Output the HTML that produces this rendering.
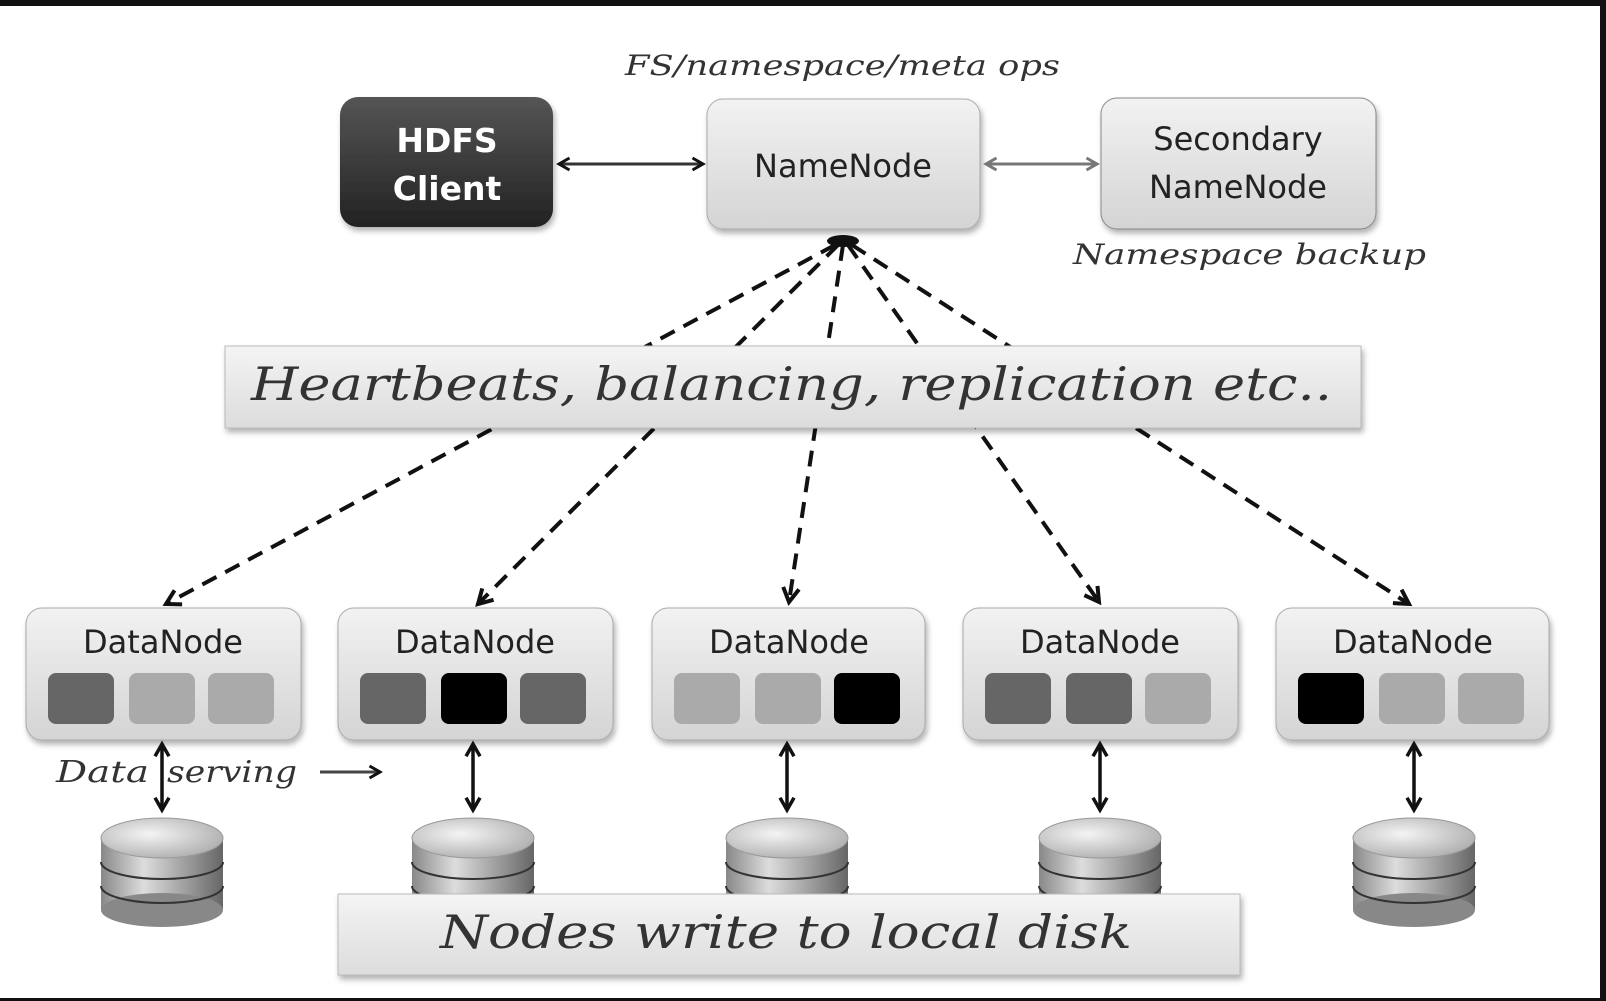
<!DOCTYPE html>
<html><head><meta charset="utf-8"><style>
html,body{margin:0;padding:0;background:#fff;width:1606px;height:1001px;overflow:hidden}
svg{display:block}
.hw{font-family:"DejaVu Serif","Liberation Serif",serif;font-style:italic;fill:#333}
.sans{font-family:"DejaVu Sans","Liberation Sans",sans-serif}
</style></head><body>
<svg width="1606" height="1001" viewBox="0 0 1606 1001" xmlns="http://www.w3.org/2000/svg">
<defs>
<linearGradient id="lg" x1="0" y1="0" x2="0" y2="1"><stop offset="0" stop-color="#f2f2f2"/><stop offset="1" stop-color="#d4d4d4"/></linearGradient>
<linearGradient id="dg" x1="0" y1="0" x2="0" y2="1"><stop offset="0" stop-color="#555"/><stop offset="1" stop-color="#222"/></linearGradient>
<linearGradient id="bg" x1="0" y1="0" x2="0" y2="1"><stop offset="0" stop-color="#f4f4f4"/><stop offset="1" stop-color="#dcdcdc"/></linearGradient>
<linearGradient id="cyl" x1="0" y1="0" x2="1" y2="0"><stop offset="0" stop-color="#888"/><stop offset="0.35" stop-color="#ddd"/><stop offset="1" stop-color="#666"/></linearGradient>
<radialGradient id="top" cx="0.4" cy="0.4" r="0.7"><stop offset="0" stop-color="#f4f4f4"/><stop offset="1" stop-color="#aaa"/></radialGradient>
<marker id="ah" viewBox="0 0 10 10" refX="8" refY="5" markerWidth="5" markerHeight="5" orient="auto-start-reverse"><path d="M1,1 L8,5 L1,9" fill="none" stroke="#111" stroke-width="2"/></marker>
<marker id="ahg" viewBox="0 0 10 10" refX="8" refY="5" markerWidth="5" markerHeight="5" orient="auto-start-reverse"><path d="M1,1 L8,5 L1,9" fill="none" stroke="#777" stroke-width="2"/></marker>
<filter id="sh" x="-10%" y="-10%" width="120%" height="130%"><feDropShadow dx="2" dy="4" stdDeviation="3" flood-color="#000" flood-opacity="0.3"/></filter>
</defs>
<rect x="0" y="0" width="1606" height="6" fill="#111"/>
<rect x="1600" y="0" width="6" height="1001" fill="#111"/>
<rect x="0" y="998" width="1606" height="3" fill="#111"/>

<g stroke="#111" stroke-width="4" stroke-dasharray="16,10" fill="none" marker-end="url(#ah)">
<line x1="835" y1="245" x2="166" y2="604"/>
<line x1="838" y1="245" x2="478" y2="604"/>
<line x1="843" y1="245" x2="789" y2="602"/>
<line x1="848" y1="245" x2="1099" y2="602"/>
<line x1="852" y1="245" x2="1409" y2="604"/>
</g>
<ellipse cx="843" cy="241" rx="16" ry="6" fill="#111"/>

<rect x="340" y="97" width="213" height="130" rx="18" fill="url(#dg)" filter="url(#sh)"/>
<text x="447" y="152" text-anchor="middle" class="sans" font-weight="bold" font-size="33" fill="#fff">HDFS</text>
<text x="447" y="200" text-anchor="middle" class="sans" font-weight="bold" font-size="33" fill="#fff">Client</text>
<rect x="707" y="99" width="273" height="130" rx="16" fill="url(#lg)" stroke="#aaa" filter="url(#sh)"/>
<text x="843" y="177" text-anchor="middle" class="sans" font-size="32" fill="#222">NameNode</text>
<rect x="1101" y="98" width="275" height="131" rx="16" fill="url(#lg)" stroke="#888" filter="url(#sh)"/>
<text x="1238" y="150" text-anchor="middle" class="sans" font-size="32" fill="#222">Secondary</text>
<text x="1238" y="198" text-anchor="middle" class="sans" font-size="32" fill="#222">NameNode</text>
<line x1="559" y1="164" x2="703" y2="164" stroke="#333" stroke-width="3" marker-start="url(#ah)" marker-end="url(#ah)"/>
<line x1="986" y1="164" x2="1097" y2="164" stroke="#777" stroke-width="3" marker-start="url(#ahg)" marker-end="url(#ahg)"/>
<text x="625" y="75" class="hw" font-size="28" textLength="435" lengthAdjust="spacingAndGlyphs">FS/namespace/meta ops</text>
<text x="1073" y="264" class="hw" font-size="28" textLength="353" lengthAdjust="spacingAndGlyphs">Namespace backup</text>

<rect x="225" y="346" width="1136" height="82" fill="url(#bg)" stroke="#bbb" filter="url(#sh)"/>
<text x="251" y="400" class="hw" font-size="46" fill="#222" textLength="1081" lengthAdjust="spacingAndGlyphs">Heartbeats, balancing, replication etc..</text>

<g class="sans">
<g transform="translate(26,608)">
<rect width="275" height="132" rx="16" fill="url(#lg)" stroke="#aaa" filter="url(#sh)"/>
<text x="137" y="45" text-anchor="middle" font-size="32" fill="#222" class="sans">DataNode</text>
<rect x="22" y="65" width="66" height="51" rx="8" fill="#666"/><rect x="103" y="65" width="66" height="51" rx="8" fill="#aaa"/><rect x="182" y="65" width="66" height="51" rx="8" fill="#aaa"/>
</g>
<g transform="translate(338,608)">
<rect width="275" height="132" rx="16" fill="url(#lg)" stroke="#aaa" filter="url(#sh)"/>
<text x="137" y="45" text-anchor="middle" font-size="32" fill="#222" class="sans">DataNode</text>
<rect x="22" y="65" width="66" height="51" rx="8" fill="#666"/><rect x="103" y="65" width="66" height="51" rx="8" fill="#000"/><rect x="182" y="65" width="66" height="51" rx="8" fill="#666"/>
</g>
<g transform="translate(652,608)">
<rect width="273" height="132" rx="16" fill="url(#lg)" stroke="#aaa" filter="url(#sh)"/>
<text x="137" y="45" text-anchor="middle" font-size="32" fill="#222" class="sans">DataNode</text>
<rect x="22" y="65" width="66" height="51" rx="8" fill="#aaa"/><rect x="103" y="65" width="66" height="51" rx="8" fill="#aaa"/><rect x="182" y="65" width="66" height="51" rx="8" fill="#000"/>
</g>
<g transform="translate(963,608)">
<rect width="275" height="132" rx="16" fill="url(#lg)" stroke="#aaa" filter="url(#sh)"/>
<text x="137" y="45" text-anchor="middle" font-size="32" fill="#222" class="sans">DataNode</text>
<rect x="22" y="65" width="66" height="51" rx="8" fill="#666"/><rect x="103" y="65" width="66" height="51" rx="8" fill="#666"/><rect x="182" y="65" width="66" height="51" rx="8" fill="#aaa"/>
</g>
<g transform="translate(1276,608)">
<rect width="273" height="132" rx="16" fill="url(#lg)" stroke="#aaa" filter="url(#sh)"/>
<text x="137" y="45" text-anchor="middle" font-size="32" fill="#222" class="sans">DataNode</text>
<rect x="22" y="65" width="66" height="51" rx="8" fill="#000"/><rect x="103" y="65" width="66" height="51" rx="8" fill="#aaa"/><rect x="182" y="65" width="66" height="51" rx="8" fill="#aaa"/>
</g>
</g>

<g stroke="#111" stroke-width="3.5" marker-start="url(#ah)" marker-end="url(#ah)">
<line x1="162" y1="744" x2="162" y2="810"/>
<line x1="473" y1="744" x2="473" y2="810"/>
<line x1="787" y1="744" x2="787" y2="810"/>
<line x1="1100" y1="744" x2="1100" y2="810"/>
<line x1="1414" y1="744" x2="1414" y2="810"/>
</g>

<g>
<g transform="translate(162,0)">
<rect x="-61" y="840" width="122" height="70" fill="url(#cyl)"/>
<ellipse cx="0" cy="910" rx="61" ry="17" fill="#888"/>
<path d="M-61,862 A61,17 0 0 0 61,862 M-61,886 A61,17 0 0 0 61,886" stroke="#333" stroke-width="2" fill="none"/>
<ellipse cx="0" cy="838" rx="61" ry="20" fill="url(#top)" stroke="#999"/>
</g>
<g transform="translate(473,0)">
<rect x="-61" y="840" width="122" height="70" fill="url(#cyl)"/>
<path d="M-61,862 A61,17 0 0 0 61,862 M-61,886 A61,17 0 0 0 61,886" stroke="#333" stroke-width="2" fill="none"/>
<ellipse cx="0" cy="838" rx="61" ry="20" fill="url(#top)" stroke="#999"/>
</g>
<g transform="translate(787,0)">
<rect x="-61" y="840" width="122" height="70" fill="url(#cyl)"/>
<path d="M-61,862 A61,17 0 0 0 61,862 M-61,886 A61,17 0 0 0 61,886" stroke="#333" stroke-width="2" fill="none"/>
<ellipse cx="0" cy="838" rx="61" ry="20" fill="url(#top)" stroke="#999"/>
</g>
<g transform="translate(1100,0)">
<rect x="-61" y="840" width="122" height="70" fill="url(#cyl)"/>
<path d="M-61,862 A61,17 0 0 0 61,862 M-61,886 A61,17 0 0 0 61,886" stroke="#333" stroke-width="2" fill="none"/>
<ellipse cx="0" cy="838" rx="61" ry="20" fill="url(#top)" stroke="#999"/>
</g>
<g transform="translate(1414,0)">
<rect x="-61" y="840" width="122" height="70" fill="url(#cyl)"/>
<ellipse cx="0" cy="910" rx="61" ry="17" fill="#888"/>
<path d="M-61,862 A61,17 0 0 0 61,862 M-61,886 A61,17 0 0 0 61,886" stroke="#333" stroke-width="2" fill="none"/>
<ellipse cx="0" cy="838" rx="61" ry="20" fill="url(#top)" stroke="#999"/>
</g>
</g>

<rect x="338" y="894" width="902" height="81" fill="url(#bg)" stroke="#bbb" filter="url(#sh)"/>
<text x="440" y="948" class="hw" font-size="46" fill="#222" textLength="692" lengthAdjust="spacingAndGlyphs">Nodes write to local disk</text>

<text x="56" y="782" class="hw" font-size="30" fill="#555" textLength="93" lengthAdjust="spacingAndGlyphs">Data</text>
<text x="167" y="782" class="hw" font-size="30" fill="#555" textLength="130" lengthAdjust="spacingAndGlyphs">serving</text>
<line x1="320" y1="772" x2="380" y2="772" stroke="#444" stroke-width="3" marker-end="url(#ah)"/>
</svg>
</body></html>
